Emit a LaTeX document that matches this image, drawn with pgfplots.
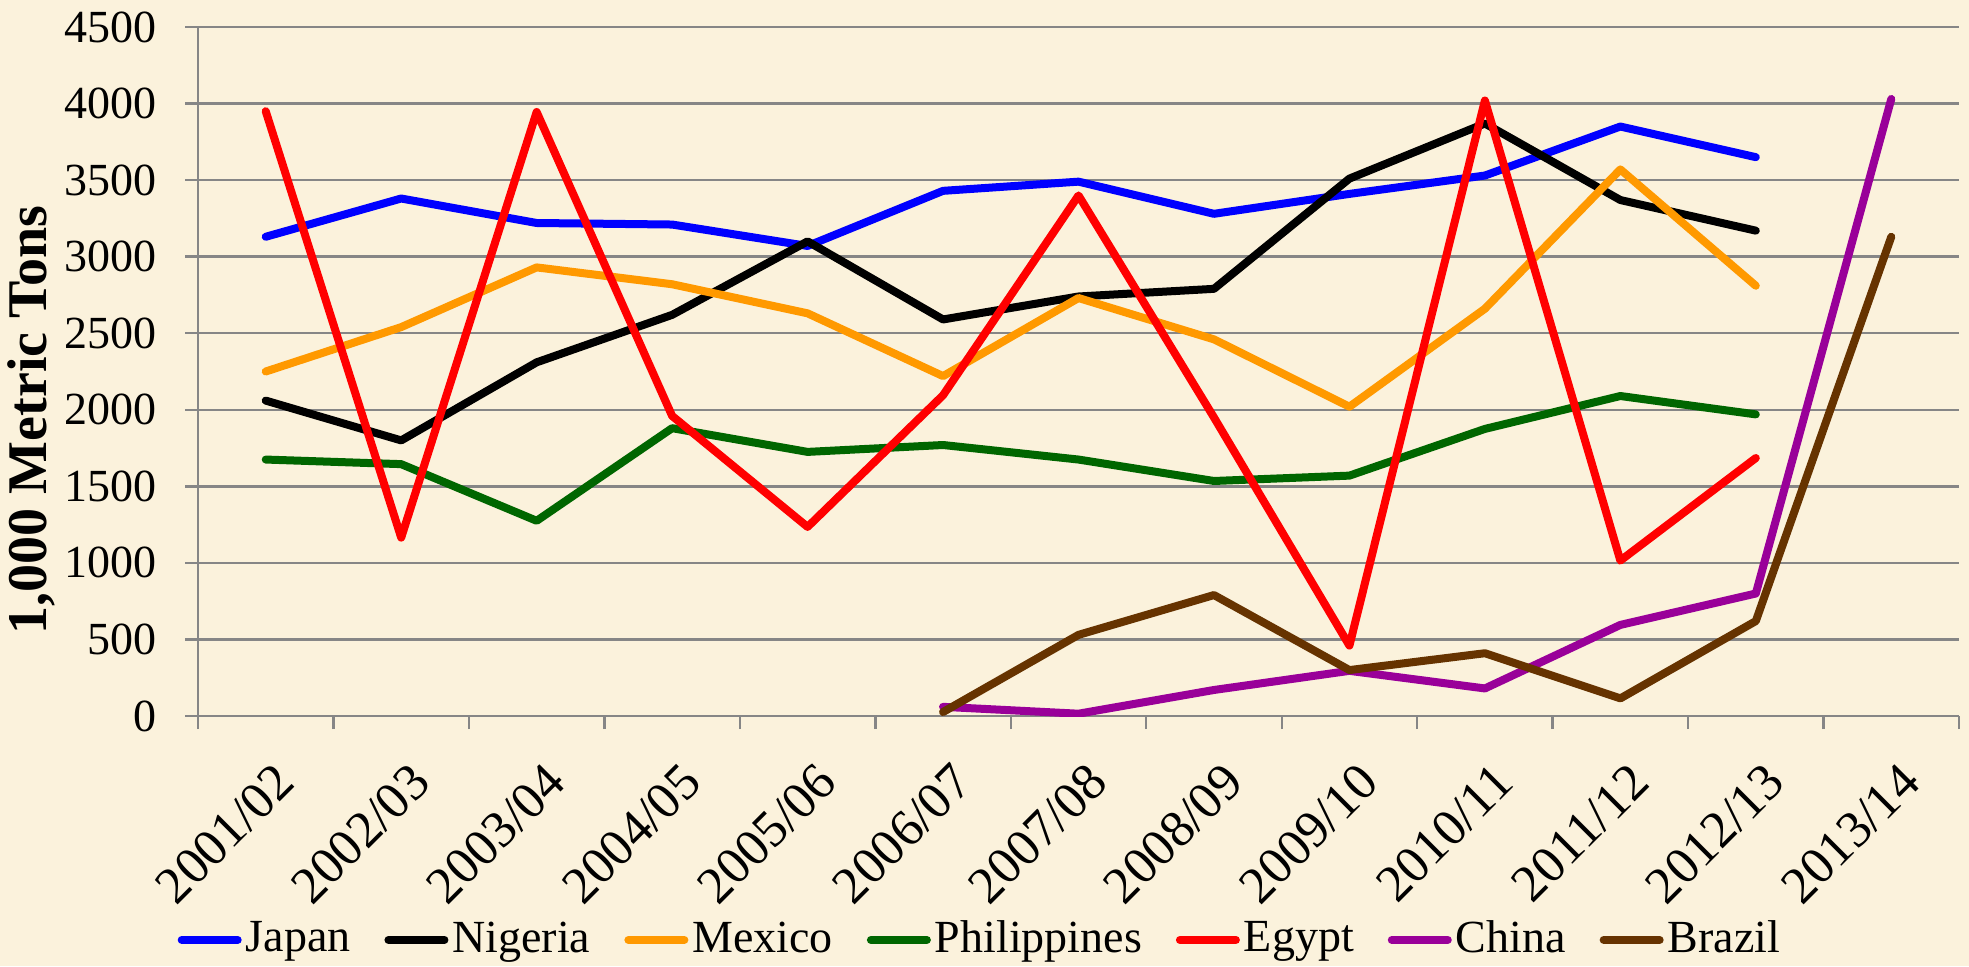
\documentclass[border=0pt]{standalone}
\usepackage{pgfplots}
\pgfplotsset{compat=1.18}
\usepackage{fontspec}
\setmainfont{Liberation Serif}

\definecolor{bg}{RGB}{251,242,220}
\definecolor{gridgray}{RGB}{134,134,134}
\definecolor{cjapan}{RGB}{0,0,255}
\definecolor{cmexico}{RGB}{255,153,0}
\definecolor{cphil}{RGB}{0,102,0}
\definecolor{cegypt}{RGB}{255,0,0}
\definecolor{cchina}{RGB}{153,0,153}
\definecolor{cbrazil}{RGB}{102,51,0}

\begin{document}
\begin{tikzpicture}
\fill[bg] (0,0) rectangle (492.25pt,241.5pt);
\begin{axis}[
    at={(49.5pt,62.5pt)}, anchor=south west,
    scale only axis,
    width=440.25pt, height=172.25pt,
    xmin=-0.5, xmax=12.5,
    ymin=0, ymax=4500,
    ytick={0,500,...,4500},
    xtick={-0.5,0.5,...,12.5},
    xticklabels={},
    extra x ticks={0,...,12},
    extra x tick labels={2001/02,2002/03,2003/04,2004/05,2005/06,2006/07,2007/08,2008/09,2009/10,2010/11,2011/12,2012/13,2013/14},
    extra x tick style={major tick length=0pt, grid=none,
        xticklabel style={font=\fontsize{13}{14}\selectfont, inner sep=0pt, xshift=1.75pt, yshift=-11pt, rotate=45, anchor=north east}},
    axis x line*=bottom, axis y line*=left,
    axis line style={gridgray, line width=0.6pt, -},
    tick align=outside,
    major tick length=3.25pt,
    every tick/.style={gridgray, line width=0.6pt},
    ymajorgrids=true,
    grid style={gridgray, line width=0.6pt},
    /pgf/number format/assume math mode=true,
    /pgf/number format/1000 sep={},
    yticklabel style={font=\fontsize{11.5}{12}\selectfont, xshift=-3.5pt},
    ylabel={\textbf{1,000 Metric Tons}},
    ylabel style={font=\fontsize{14}{15}\selectfont, at={(axis description cs:-0.0948,0.43)}, anchor=center},
    every axis plot/.append style={line width=2pt, line cap=round, line join=round},
    legend columns=7,
    legend style={at={(axis description cs:0.444,-0.325)}, anchor=center, draw=none, fill=none,
        font=\fontsize{11.5}{12}\selectfont,
        /tikz/every odd column/.append style={column sep=0.5pt},
        /tikz/every even column/.append style={column sep=8pt},
        nodes={inner sep=0.5pt}},
    legend image code/.code={\draw[#1, line width=2pt, line cap=round] (0pt,0pt) -- (14pt,0pt);},
]
\addplot[cjapan] coordinates {(0,3130)(1,3380)(2,3220)(3,3210)(4,3070)(5,3430)(6,3490)(7,3280)(8,3410)(9,3530)(10,3850)(11,3650)};
\addplot[black] coordinates {(0,2060)(1,1800)(2,2310)(3,2620)(4,3100)(5,2590)(6,2740)(7,2790)(8,3510)(9,3870)(10,3370)(11,3170)};
\addplot[cmexico] coordinates {(0,2250)(1,2540)(2,2930)(3,2820)(4,2630)(5,2220)(6,2730)(7,2460)(8,2020)(9,2660)(10,3570)(11,2810)};
\addplot[cphil] coordinates {(0,1675)(1,1645)(2,1275)(3,1880)(4,1725)(5,1770)(6,1675)(7,1535)(8,1570)(9,1875)(10,2090)(11,1970)};
\addplot[cegypt] coordinates {(0,3950)(1,1165)(2,3945)(3,1960)(4,1235)(5,2095)(6,3400)(7,1950)(8,460)(9,4020)(10,1015)(11,1685)};
\addplot[cchina] coordinates {(5,60)(6,15)(7,170)(8,295)(9,180)(10,595)(11,800)(12,4030)};
\addplot[cbrazil] coordinates {(5,26)(6,530)(7,790)(8,300)(9,410)(10,115)(11,620)(12,3130)};
\legend{Japan,Nigeria,Mexico,Philippines,Egypt,China,Brazil}
\end{axis}
\pgfresetboundingbox
\useasboundingbox (0,0) rectangle (492.25pt,241.5pt);
\end{tikzpicture}
\end{document}
